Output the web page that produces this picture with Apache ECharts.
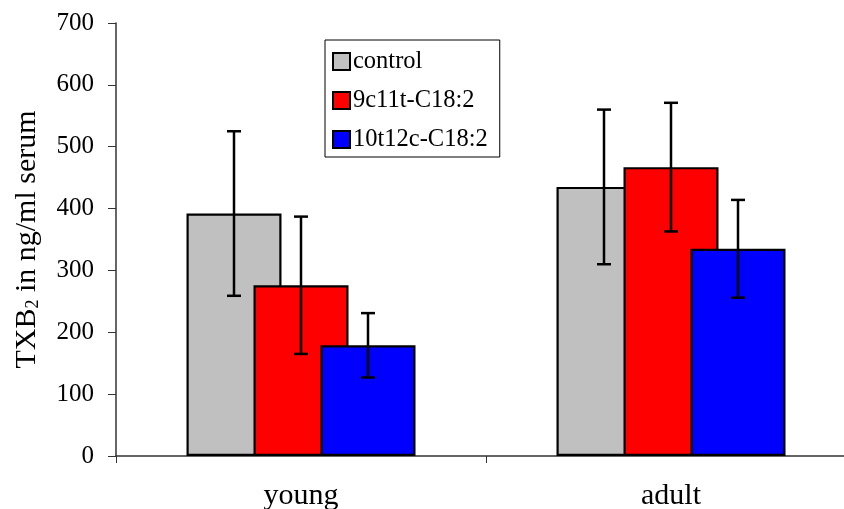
<!DOCTYPE html>
<html>
<head>
<meta charset="utf-8">
<script src="https://cdn.jsdelivr.net/npm/echarts@6/dist/echarts.min.js"></script>
<style>
  html, body { margin: 0; padding: 0; background: #fff; }
  #chart { width: 844px; height: 509px; }
</style>
</head>
<body>
<div id="chart"></div>
<script>
// TXB2 in serum by age group and fatty-acid supplement (mean ± SD)
const categories = ['young', 'adult'];
const seriesNames = ['control', '9c11t-C18:2', '10t12c-C18:2'];
const controlMean = [392, 435];
const controlErr = [133, 125];
const c9t11Mean = [276, 467];
const c9t11Err = [111, 104];
const t10c12Mean = [179, 335];
const t10c12Err = [52, 79];
const yTicks = [0, 100, 200, 300, 400, 500, 600, 700];

const means = [controlMean, c9t11Mean, t10c12Mean];
const errs = [controlErr, c9t11Err, t10c12Err];
const colors = ['#C0C0C0', '#FF0000', '#0000FF'];

const FONT = 'Liberation Serif';
const BAR_W = 95;
const BAR_GAP = -28;               // bars overlap their neighbour by 28 px
const STEP = BAR_W + BAR_GAP;      // centre-to-centre distance inside a group

const chart = echarts.init(document.getElementById('chart'), null, { renderer: 'canvas' });

const barSeries = seriesNames.map((name, i) => ({
  name: name,
  type: 'bar',
  data: means[i],
  barWidth: BAR_W,
  barGap: (BAR_GAP / BAR_W * 100).toFixed(2) + '%',
  itemStyle: { color: colors[i], borderColor: '#000', borderWidth: 2.2 },
  emphasis: { disabled: true },
  z: 2
}));

// whiskers drawn over each bar
const errorSeries = seriesNames.map((name, i) => ({
  type: 'custom',
  name: name + ' sd',
  z: 5,
  silent: true,
  data: categories.map((c, k) => [k, means[i][k] - errs[i][k], means[i][k] + errs[i][k]]),
  encode: { x: 0, y: [1, 2] },
  renderItem: function (params, api) {
    const k = api.value(0);
    const lo = api.coord([k, api.value(1)]);
    const hi = api.coord([k, api.value(2)]);
    const x = lo[0] + (i - 1) * STEP;
    const cap = 7;
    const style = { stroke: '#000', lineWidth: 2.5, fill: null };
    return {
      type: 'group',
      children: [
        { type: 'line', shape: { x1: x, y1: hi[1], x2: x, y2: lo[1] }, style: style },
        { type: 'line', shape: { x1: x - cap, y1: hi[1], x2: x + cap, y2: hi[1] }, style: style },
        { type: 'line', shape: { x1: x - cap, y1: lo[1], x2: x + cap, y2: lo[1] }, style: style }
      ]
    };
  }
}));

chart.setOption({
  animation: false,
  backgroundColor: '#fff',
  textStyle: { fontFamily: FONT, color: '#000' },
  grid: { left: 116, top: 23, right: -12, bottom: 53, containLabel: false, outerBoundsMode: 'none' },
  legend: {
    data: seriesNames,
    orient: 'vertical',
    left: 325,
    top: 40,
    padding: [9, 12, 5, 7],
    itemGap: 14,
    itemWidth: 17,
    itemHeight: 17,
    backgroundColor: '#fff',
    borderColor: '#000',
    borderWidth: 1,
    borderRadius: 0,
    selectedMode: false,
    icon: 'rect',
    itemStyle: { borderColor: '#000', borderWidth: 2 },
    textStyle: { fontFamily: FONT, fontSize: 24.5, color: '#000', padding: [0, 0, 0, -2] }
  },
  xAxis: {
    type: 'category',
    data: categories,
    axisLine: { show: true, lineStyle: { color: '#333', width: 1.5 } },
    axisTick: { show: true, inside: false, length: 7, alignWithLabel: false, lineStyle: { color: '#333', width: 1 } },
    axisLabel: { fontFamily: FONT, fontSize: 30, color: '#000', margin: 25 },
    splitLine: { show: false }
  },
  yAxis: {
    type: 'value',
    min: yTicks[0],
    max: yTicks[yTicks.length - 1],
    interval: yTicks[1] - yTicks[0],
    name: 'TXB{sub|2} in ng/ml serum',
    nameLocation: 'middle',
    nameGap: 74,
    nameRotate: 90,
    nameTextStyle: {
      fontFamily: FONT, fontSize: 30, color: '#000',
      rich: { sub: { fontFamily: FONT, fontSize: 18, verticalAlign: 'bottom', padding: [11, 0, 0, 0] } }
    },
    axisLine: { show: true, lineStyle: { color: '#333', width: 1.5 } },
    axisTick: { show: true, inside: false, length: 8, lineStyle: { color: '#333', width: 1 } },
    axisLabel: { fontFamily: FONT, fontSize: 25, color: '#000', margin: 22 },
    splitLine: { show: false }
  },
  series: barSeries.concat(errorSeries)
});
</script>
</body>
</html>
